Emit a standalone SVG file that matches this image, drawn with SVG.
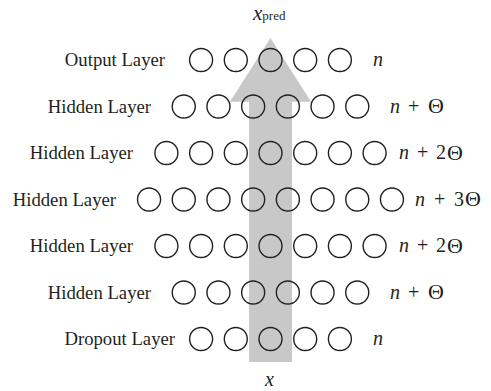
<svg xmlns="http://www.w3.org/2000/svg" width="491" height="391" viewBox="0 0 491 391">
<style>
.lbl{font-family:"Liberation Serif",serif;font-size:18.7px;fill:#231f20;text-anchor:end}
.mth{font-family:"Liberation Serif",serif;font-size:20px;fill:#231f20}
.th{font-size:22px}
.it{font-style:italic}
.nd{fill:none;stroke:#231f20;stroke-width:1.4}
</style>
<defs>
<circle id="c" r="11.5" class="nd"/>
</defs>
<rect width="491" height="391" fill="#ffffff"/>
<g id="connectors">
<polygon points="249,362 292,362 292,101.7 311,101.7 270.5,38 230,101.7 249,101.7" fill="#c8c8c8"/>
</g>
<g id="input-label"><text class="mth it" x="265" y="386" font-size="21">x</text></g>
<g id="output-label"><text class="mth" x="253" y="20"><tspan class="it" font-size="21">x</tspan><tspan font-size="13">pred</tspan></text></g>
<g id="output-layer">
<text class="lbl" x="165" y="66">Output Layer</text>
<use href="#c" x="201.1" y="60"/><use href="#c" x="235.8" y="60"/><use href="#c" x="270.5" y="60"/><use href="#c" x="305.2" y="60"/><use href="#c" x="339.9" y="60"/>
<text class="mth it" x="373" y="66">n</text>
</g>
<g id="hidden-1">
<text class="lbl" x="151" y="112.5">Hidden Layer</text>
<use href="#c" x="183.75" y="106.5"/><use href="#c" x="218.45" y="106.5"/><use href="#c" x="253.15" y="106.5"/><use href="#c" x="287.85" y="106.5"/><use href="#c" x="322.55" y="106.5"/><use href="#c" x="357.25" y="106.5"/>
<text class="mth it" x="390" y="112.5">n</text><text class="mth" x="408" y="112.5">+</text><text class="mth th" x="428" y="113">Θ</text>
</g>
<g id="hidden-2">
<text class="lbl" x="133" y="159">Hidden Layer</text>
<use href="#c" x="166.4" y="153"/><use href="#c" x="201.1" y="153"/><use href="#c" x="235.8" y="153"/><use href="#c" x="270.5" y="153"/><use href="#c" x="305.2" y="153"/><use href="#c" x="339.9" y="153"/><use href="#c" x="374.6" y="153"/>
<text class="mth it" x="399" y="159">n</text><text class="mth" x="417" y="159">+</text><text class="mth" x="436" y="159">2</text><text class="mth th" x="447" y="159.5">Θ</text>
</g>
<g id="hidden-3">
<text class="lbl" x="116" y="205.5">Hidden Layer</text>
<use href="#c" x="149.05" y="199.5"/><use href="#c" x="183.75" y="199.5"/><use href="#c" x="218.45" y="199.5"/><use href="#c" x="253.15" y="199.5"/><use href="#c" x="287.85" y="199.5"/><use href="#c" x="322.55" y="199.5"/><use href="#c" x="357.25" y="199.5"/><use href="#c" x="391.95" y="199.5"/>
<text class="mth it" x="415" y="205.5">n</text><text class="mth" x="434" y="205.5">+</text><text class="mth" x="454" y="205.5">3</text><text class="mth th" x="465" y="206">Θ</text>
</g>
<g id="hidden-4">
<text class="lbl" x="133" y="252">Hidden Layer</text>
<use href="#c" x="166.4" y="246"/><use href="#c" x="201.1" y="246"/><use href="#c" x="235.8" y="246"/><use href="#c" x="270.5" y="246"/><use href="#c" x="305.2" y="246"/><use href="#c" x="339.9" y="246"/><use href="#c" x="374.6" y="246"/>
<text class="mth it" x="399" y="252">n</text><text class="mth" x="417" y="252">+</text><text class="mth" x="436" y="252">2</text><text class="mth th" x="447" y="252.5">Θ</text>
</g>
<g id="hidden-5">
<text class="lbl" x="151" y="298.5">Hidden Layer</text>
<use href="#c" x="183.75" y="292.5"/><use href="#c" x="218.45" y="292.5"/><use href="#c" x="253.15" y="292.5"/><use href="#c" x="287.85" y="292.5"/><use href="#c" x="322.55" y="292.5"/><use href="#c" x="357.25" y="292.5"/>
<text class="mth it" x="390" y="298.5">n</text><text class="mth" x="408" y="298.5">+</text><text class="mth th" x="428" y="299">Θ</text>
</g>
<g id="dropout-layer">
<text class="lbl" x="175" y="345">Dropout Layer</text>
<use href="#c" x="201.1" y="339"/><use href="#c" x="235.8" y="339"/><use href="#c" x="270.5" y="339"/><use href="#c" x="305.2" y="339"/><use href="#c" x="339.9" y="339"/>
<text class="mth it" x="373" y="345">n</text>
</g>
</svg>
